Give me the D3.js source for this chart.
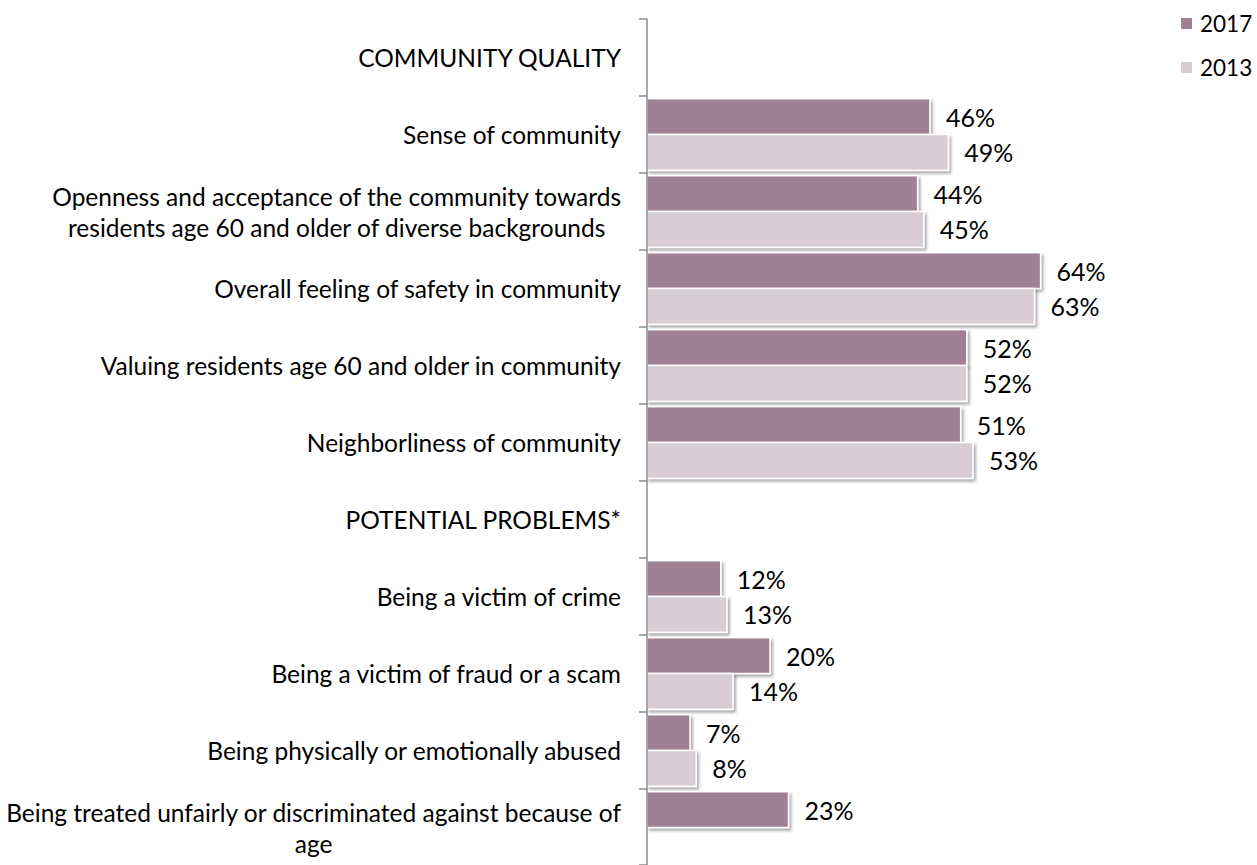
<!DOCTYPE html>
<html>
<head>
<meta charset="utf-8">
<script src="https://cdn.jsdelivr.net/npm/d3@7"></script>
<style>
  html, body { margin: 0; padding: 0; background: #fff; }
  svg { display: block; font-family: "Lato", "Open Sans", sans-serif; }
</style>
</head>
<body>
<svg id="chart" width="1257" height="865"></svg>
<script>
// Category rows (top to bottom); "\n" marks a wrapped label line
const categories = [
  "COMMUNITY QUALITY",
  "Sense of community",
  "Openness and acceptance of the community towards\nresidents age 60 and older of diverse backgrounds",
  "Overall feeling of safety in community",
  "Valuing residents age 60 and older in community",
  "Neighborliness of community",
  "POTENTIAL PROBLEMS*",
  "Being a victim of crime",
  "Being a victim of fraud or a scam",
  "Being physically or emotionally abused",
  "Being treated unfairly or discriminated against because of\nage"
];

const seriesNames = ["2017", "2013"];

// Share of respondents (null = no bar)
const values2017 = [null, 0.46, 0.44, 0.64, 0.52, 0.51, null, 0.12, 0.20, 0.07, 0.23];
const values2013 = [null, 0.49, 0.45, 0.63, 0.52, 0.53, null, 0.13, 0.14, 0.08, null];

const seriesColors = ["#a08193", "#d9cdd5"];

const svg = d3.select("#chart");
const axisX = 647;

const y = d3.scaleBand().domain(categories).range([19, 866]).paddingInner(0).paddingOuter(0);
const yInner = d3.scaleBand().domain(seriesNames).range([0, y.bandwidth()]).paddingOuter(0.075).paddingInner(0);
const x = d3.scaleLinear().domain([0, 0.7]).range([axisX, axisX + 0.7 * 615]);

// Soft drop shadow under each bar
const defs = svg.append("defs");
const f = defs.append("filter").attr("id", "shadow")
  .attr("x", "-5%").attr("y", "-20%").attr("width", "115%").attr("height", "160%");
f.append("feDropShadow").attr("dx", 2).attr("dy", 2.5).attr("stdDeviation", 1.6)
  .attr("flood-color", "#000").attr("flood-opacity", 0.35);

const rows = categories.map((c, i) => ({
  cat: c,
  vals: [values2017[i], values2013[i]]
}));

// Bars and value labels
const g = svg.append("g");
rows.forEach(r => {
  r.vals.forEach((v, si) => {
    if (v == null) return;
    const yy = y(r.cat) + yInner(seriesNames[si]);
    g.append("rect")
      .attr("x", x(0))
      .attr("y", yy)
      .attr("width", x(v) - x(0))
      .attr("height", yInner.bandwidth())
      .attr("fill", seriesColors[si])
      .attr("stroke", "#fff")
      .attr("stroke-width", 1.5)
      .attr("filter", "url(#shadow)");
    g.append("text")
      .attr("x", x(v) + 16)
      .attr("y", yy + yInner.bandwidth() / 2 + 1)
      .attr("dy", "0.36em")
      .attr("font-size", 25)
      .attr("fill", "#000")
      .text(d3.format(".0%")(v));
  });
});

// Vertical category axis with ticks on band boundaries
const axisG = svg.append("g");
axisG.append("line")
  .attr("x1", axisX).attr("x2", axisX)
  .attr("y1", y.range()[0]).attr("y2", y.range()[1])
  .attr("stroke", "#8c8c8c").attr("stroke-width", 1.5);
const boundaries = categories.map(c => y(c)).concat([y.range()[1] - 1]);
axisG.selectAll("line.tick").data(boundaries).join("line")
  .attr("class", "tick")
  .attr("x1", axisX - 8).attr("x2", axisX)
  .attr("y1", d => d).attr("y2", d => d)
  .attr("stroke", "#8c8c8c").attr("stroke-width", 1.5);

// Category labels, wrapped lines centred on the widest line
const labelRight = 621;
const lineH = 31;
categories.forEach(c => {
  const lines = c.split("\n");
  const t = svg.append("text")
    .attr("font-size", 24.5)
    .attr("fill", "#000")
    .attr("text-anchor", "middle");
  const cy = y(c) + y.bandwidth() / 2 + 1;
  const top = cy - (lines.length - 1) * lineH / 2;
  const spans = lines.map((ln, i) => t.append("tspan")
    .attr("y", top + i * lineH).attr("dy", "0.35em").text(ln));
  const widths = spans.map(s => s.node().getComputedTextLength());
  const maxW = d3.max(widths);
  spans.forEach(s => s.attr("x", labelRight - maxW / 2));
});

// Legend
const legend = svg.append("g");
seriesNames.forEach((s, i) => {
  const ly = 24 + i * 44;
  legend.append("rect")
    .attr("x", 1181).attr("y", ly - 6).attr("width", 11).attr("height", 11)
    .attr("fill", seriesColors[i]);
  legend.append("text")
    .attr("x", 1200).attr("y", ly).attr("dy", "0.36em")
    .attr("font-size", 22.5).attr("fill", "#000")
    .text(s);
});
</script>
</body>
</html>
